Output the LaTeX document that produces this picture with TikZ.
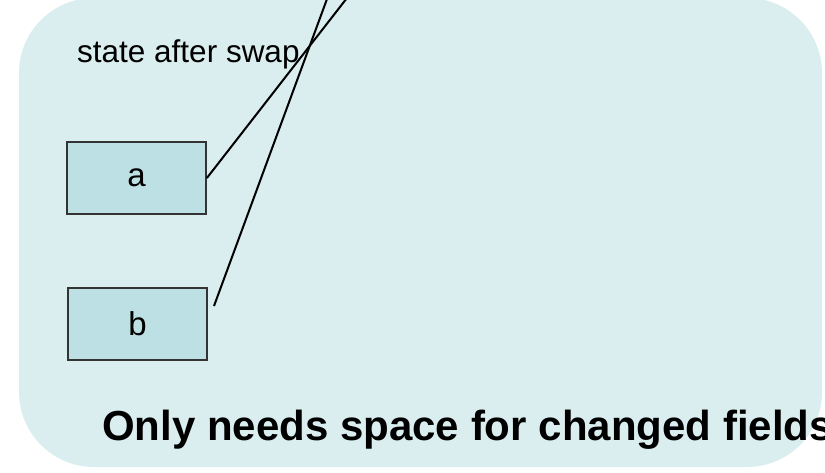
\documentclass[tikz,border=0pt]{standalone}
\usepackage{fontspec}
\setmainfont{Liberation Sans}
\newlength{\du}
\setlength{\du}{1pt}
\definecolor{panelcolor}{rgb}{0.855, 0.929, 0.937}
\definecolor{boxcolor}{rgb}{0.737, 0.878, 0.890}
\tikzset{
  fieldbox/.style={draw=black!80, fill=boxcolor, line width=1.8\du,
    minimum width=139\du, minimum height=72\du, inner sep=0pt,
    font=\fontsize{33}{38}\selectfont},
  swapline/.style={draw=black, line width=2\du}
}
\begin{document}
\begin{tikzpicture}
\pgftransformyscale{-1.000000}
\useasboundingbox (0\du,0\du) rectangle (825\du,473\du);
\clip (0\du,0\du) rectangle (825\du,473\du);
% panel
\fill[panelcolor, rounded corners=75\du] (19\du,-2\du) rectangle (822\du,467\du);
% setfont left to latex
\node[anchor=base west, inner sep=0pt, font=\fontsize{31.5}{36}\selectfont] (caption) at (77\du,63\du){state after swap};
\node[fieldbox] (a) at (136.5\du,178\du){a};
\node[fieldbox] (b) at (137.5\du,324\du){b};
% lines leaving the picture
\coordinate (aout) at (361\du,-20\du);
\coordinate (btail) at (214\du,306\du);
\coordinate (bout) at (334\du,-20\du);
\draw[swapline] (a.east)--(aout);
\draw[swapline] (btail)--(bout);
% setfont left to latex
\node[anchor=base west, inner sep=0pt, font=\bfseries\fontsize{42}{50}\selectfont] (note) at (102\du,440\du){Only needs space for changed fields};
\end{tikzpicture}
\end{document}
